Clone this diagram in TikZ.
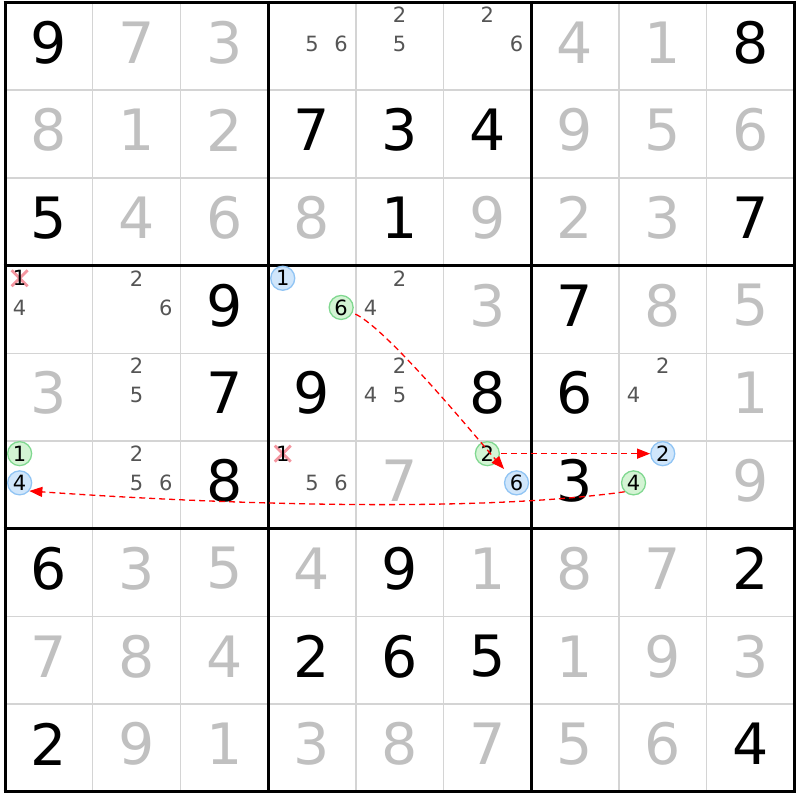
\documentclass[tikz,border=0pt]{standalone}
\usepackage{fontspec}
\setmainfont{DejaVu Sans}
\usetikzlibrary{arrows.meta}
\definecolor{solvedcol}{RGB}{192,192,192}
\definecolor{candcol}{RGB}{85,85,85}
\definecolor{thingrid}{RGB}{212,212,212}
\definecolor{gfill}{RGB}{212,244,212}
\definecolor{gline}{RGB}{128,216,144}
\definecolor{bfill}{RGB}{208,230,251}
\definecolor{bline}{RGB}{144,196,244}
\definecolor{xcol}{RGB}{244,150,160}
\definecolor{linkred}{RGB}{255,0,0}
\begin{document}
\begin{tikzpicture}[x=1pt,y=1pt,
  big/.style={font=\fontsize{57}{60}\selectfont, inner sep=0pt},
  given/.style={big, text=black},
  solved/.style={big, text=solvedcol},
  cand/.style={font=\fontsize{21}{24}\selectfont, inner sep=0pt, text=candcol},
  xcand/.style={cand, text=black},
  gcirc/.style={circle, minimum size=24pt, inner sep=0pt, draw=gline, fill=gfill, line width=1.3pt, text=black, font=\fontsize{21}{24}\selectfont},
  bcirc/.style={gcirc, draw=bline, fill=bfill},
  thinline/.style={draw=thingrid, line width=1.5pt},
  thickline/.style={draw=black, line width=3pt},
  xmark/.style={draw=xcol, line width=2.8pt},
  link/.style={draw=linkred, line width=1.3pt, dash pattern=on 6pt off 4pt, -{Triangle[length=13pt,width=10pt]}},
]
\useasboundingbox[fill=white] (0,0) rectangle (800,-800);
% thin grid lines
\foreach \i in {1,2,4,5,7,8} {
  \draw[thinline] ({5+\i*87.7},-2.5) -- ({5+\i*87.7},-791.8);
  \draw[thinline] (5,{-(2.5+\i*87.7)}) -- (794.3,{-(2.5+\i*87.7)});
}
% thick grid lines
\foreach \i in {0,3,6,9} {
  \draw[thickline] ({5+\i*87.7},-1) -- ({5+\i*87.7},-793.3);
  \draw[thickline] (3.5,{-(2.5+\i*87.7)}) -- (795.8,{-(2.5+\i*87.7)});
}
% values
\foreach \r/\c/\d/\s in {
 1/1/9/given, 1/2/7/solved, 1/3/3/solved, 1/7/4/solved, 1/8/1/solved, 1/9/8/given,
 2/1/8/solved, 2/2/1/solved, 2/3/2/solved, 2/4/7/given, 2/5/3/given, 2/6/4/given, 2/7/9/solved, 2/8/5/solved, 2/9/6/solved,
 3/1/5/given, 3/2/4/solved, 3/3/6/solved, 3/4/8/solved, 3/5/1/given, 3/6/9/solved, 3/7/2/solved, 3/8/3/solved, 3/9/7/given,
 4/3/9/given, 4/6/3/solved, 4/7/7/given, 4/8/8/solved, 4/9/5/solved,
 5/1/3/solved, 5/3/7/given, 5/4/9/given, 5/6/8/given, 5/7/6/given, 5/9/1/solved,
 6/3/8/given, 6/5/7/solved, 6/7/3/given, 6/9/9/solved,
 7/1/6/given, 7/2/3/solved, 7/3/5/solved, 7/4/4/solved, 7/5/9/given, 7/6/1/solved, 7/7/8/solved, 7/8/7/solved, 7/9/2/given,
 8/1/7/solved, 8/2/8/solved, 8/3/4/solved, 8/4/2/given, 8/5/6/given, 8/6/5/given, 8/7/1/solved, 8/8/9/solved, 8/9/3/solved,
 9/1/2/given, 9/2/9/solved, 9/3/1/solved, 9/4/3/solved, 9/5/8/solved, 9/6/7/solved, 9/7/5/solved, 9/8/6/solved, 9/9/4/given} {
  \node[\s] (v\r\c) at ({5+(\c-0.5)*87.7}, {-(2.5+(\r-0.5)*87.7-4)}) {\d};
}
% red crosses behind eliminated candidates
\foreach \r/\c in {4/1, 6/4} {
  \coordinate (x\r\c) at ({5+(\c-0.5)*87.7-29.2}, {-(2.5+(\r-0.5)*87.7-29.2-2)});
  \draw[xmark] ([shift={(-8,8)}]x\r\c) -- ([shift={(8,-8)}]x\r\c);
  \draw[xmark] ([shift={(-8,-8)}]x\r\c) -- ([shift={(8,8)}]x\r\c);
}
% candidates
\foreach \r/\c/\d/\s in {
 1/4/5/cand, 1/4/6/cand, 1/5/2/cand, 1/5/5/cand, 1/6/2/cand, 1/6/6/cand,
 4/1/1/xcand, 4/1/4/cand, 4/2/2/cand, 4/2/6/cand, 4/4/1/bcirc, 4/4/6/gcirc, 4/5/2/cand, 4/5/4/cand,
 5/2/2/cand, 5/2/5/cand, 5/5/2/cand, 5/5/4/cand, 5/5/5/cand, 5/8/2/cand, 5/8/4/cand,
 6/1/1/gcirc, 6/1/4/bcirc, 6/2/2/cand, 6/2/5/cand, 6/2/6/cand, 6/4/1/xcand, 6/4/5/cand, 6/4/6/cand,
 6/6/2/gcirc, 6/6/6/bcirc, 6/8/2/bcirc, 6/8/4/gcirc} {
  \node[\s] (k\r\c\d) at ({5+(\c-0.5)*87.7+(mod(\d-1,3)-1)*29.2}, {-(2.5+(\r-0.5)*87.7+(div(\d-1,3)-1)*29.2-2)}) {\d};
}
% links
\draw[link, shorten >=6pt, shorten <=3pt] (k446) to[out=-25, in=132, looseness=0.45] (k666);
\draw[link, shorten <=1pt] (k662) -- (k682);
\draw[link, looseness=0.7] (k684.225) to[out=188, in=-4] (k614.-40);
\end{tikzpicture}
\end{document}
